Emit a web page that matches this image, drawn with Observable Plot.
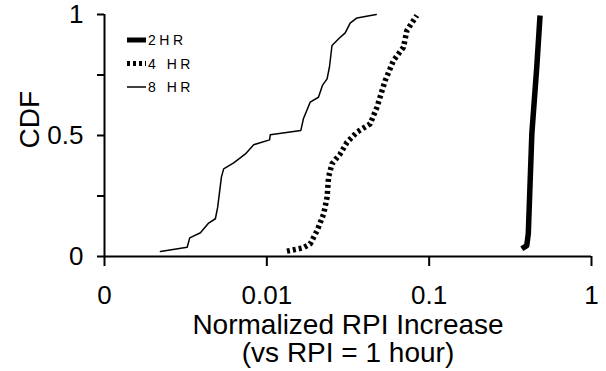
<!DOCTYPE html>
<html>
<head>
<meta charset="utf-8">
<script src="https://cdn.jsdelivr.net/npm/d3@7"></script>
<script src="https://cdn.jsdelivr.net/npm/@observablehq/plot@0.6"></script>
<style>
  body { margin: 0; background: #fff; }
  #wrap { position: relative; width: 606px; height: 371px; font-family: "Liberation Sans", Arial, sans-serif; }
  #legend { position: absolute; left: 0; top: 0; pointer-events: none; }
</style>
</head>
<body>
<div id="wrap"></div>
<script>
// ---- data ----
const seriesNames = ["2HR", "4 HR", "8 HR"];

const x2 = [0.372, 0.399, 0.408, 0.429, 0.460, 0.482];
const y2 = [0.032, 0.045, 0.094, 0.507, 0.782, 0.996];

const x4 = [0.0133, 0.0168, 0.0185, 0.0204, 0.0224, 0.0235, 0.0240, 0.0252, 0.0283, 0.0312, 0.0359, 0.0433, 0.0477, 0.0536, 0.0603, 0.0695, 0.0729, 0.0840];
const y4 = [0.022, 0.036, 0.052, 0.107, 0.176, 0.245, 0.328, 0.383, 0.424, 0.472, 0.514, 0.548, 0.617, 0.727, 0.810, 0.865, 0.934, 0.996];

const x8 = [0.00221, 0.00323, 0.00335, 0.0039, 0.00438, 0.00482, 0.00498, 0.00525, 0.00542, 0.00625, 0.00738, 0.0083, 0.0104, 0.0105, 0.0162, 0.0168, 0.0185, 0.0208, 0.0220, 0.0235, 0.0243, 0.0252, 0.0277, 0.0304, 0.0326, 0.0359, 0.0472];
const y8 = [0.021, 0.038, 0.077, 0.098, 0.138, 0.156, 0.204, 0.328, 0.362, 0.387, 0.424, 0.462, 0.482, 0.503, 0.521, 0.569, 0.638, 0.658, 0.707, 0.734, 0.782, 0.872, 0.900, 0.924, 0.964, 0.986, 1.0];

const xTicks = [0.001, 0.01, 0.1, 1];
const xTickLabels = ["0", "0.01", "0.1", "1"];
const yTicks = [0, 0.25, 0.5, 0.75, 1];
const yTickLabels = ["0", "", "0.5", "", "1"];

const xLabel1 = "Normalized RPI Increase";
const xLabel2 = "(vs RPI = 1 hour)";
const yLabel = "CDF";

// ---- build ----
const toRows = (xs, ys) => xs.map((x, i) => ({x, y: ys[i]}));
const d2 = toRows(x2, y2), d4 = toRows(x4, y4), d8 = toRows(x8, y8);

const font = "Liberation Sans, Arial, sans-serif";

const chart = Plot.plot({
  width: 606,
  height: 371,
  marginLeft: 104,
  marginRight: 15,
  marginTop: 14,
  marginBottom: 115,
  style: {fontFamily: font, background: "#fff", color: "#000", overflow: "visible"},
  x: {type: "log", domain: [0.001, 1]},
  y: {domain: [0, 1]},
  marks: [
    Plot.axisX(xTicks, {tickSize: 10, tickPadding: 19, strokeWidth: 2, fontSize: 26,
      tickFormat: d => xTickLabels[xTicks.indexOf(d)], label: null}),
    Plot.axisY(yTicks, {tickSize: 7, tickPadding: 14, strokeWidth: 2, fontSize: 26,
      tickFormat: d => yTickLabels[yTicks.indexOf(d)], label: null}),
    Plot.ruleY([0], {stroke: "#000", strokeWidth: 2}),
    Plot.ruleX([0.001], {stroke: "#000", strokeWidth: 2}),
    Plot.line(d8, {x: "x", y: "y", stroke: "#000", strokeWidth: 1.5}),
    Plot.line(d4, {x: "x", y: "y", stroke: "#000", strokeWidth: 5.5, strokeDasharray: "3,3", strokeLinecap: "butt", strokeLinejoin: "miter"}),
    Plot.line(d2, {x: "x", y: "y", stroke: "#000", strokeWidth: 5.5, strokeLinecap: "butt"}),
    Plot.text([xLabel1], {frameAnchor: "bottom", dy: 77, fontSize: 28, fill: "#000"}),
    Plot.text([xLabel2], {frameAnchor: "bottom", dy: 105, fontSize: 28, fill: "#000"}),
    Plot.text([yLabel], {frameAnchor: "left", dx: -74, dy: 13, rotate: -90, fontSize: 28, fill: "#000"})
  ]
});

const wrap = document.getElementById("wrap");
wrap.appendChild(chart);

// ---- legend overlay (inside the plot frame, top-left) ----
const styles = [
  {w: 5, dash: null},
  {w: 5, dash: "3,3"},
  {w: 1.5, dash: null}
];
const rowsY = [40, 63.5, 87];
const lg = d3.select(wrap).append("svg")
  .attr("id", "legend").attr("width", 606).attr("height", 371);
seriesNames.forEach((name, i) => {
  const g = lg.append("g");
  const ln = g.append("line")
    .attr("x1", 127).attr("x2", 146).attr("y1", rowsY[i]).attr("y2", rowsY[i])
    .attr("stroke", "#000").attr("stroke-width", styles[i].w);
  if (styles[i].dash) ln.attr("stroke-dasharray", styles[i].dash);
  g.append("text")
    .attr("x", 148).attr("y", rowsY[i]).attr("dy", "0.36em")
    .attr("font-family", font).attr("font-size", 14).attr("letter-spacing", "3.5px")
    .attr("fill", "#000")
    .text(name);
});
</script>
</body>
</html>
